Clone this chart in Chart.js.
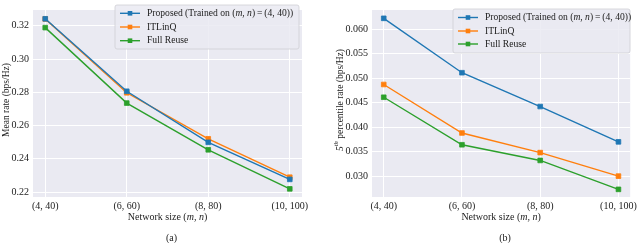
<!DOCTYPE html>
<html>
<head>
<meta charset="utf-8">
<script src="https://cdn.jsdelivr.net/npm/chart.js@4"></script>
<style>
  body { margin: 0; background: #fff; }
  #wrap { position: relative; width: 640px; height: 243px; }
  canvas { position: absolute; top: 0; }
</style>
</head>
<body>
<div id="wrap">
  <canvas id="chart-mean" width="320" height="243" style="left:0"></canvas>
  <canvas id="chart-p5" width="320" height="243" style="left:320px"></canvas>
</div>
<script>
const categories = ['(4, 40)', '(6, 60)', '(8, 80)', '(10, 100)'];
const seriesNames = ['Proposed', 'ITLinQ', 'Full Reuse'];

const meanProposed = [0.3242, 0.2806, 0.2499, 0.2276];
const meanItlinq = [0.3241, 0.2797, 0.2520, 0.2289];
const meanFullReuse = [0.3189, 0.2735, 0.2454, 0.2219];

const p5Proposed = [0.0622, 0.0511, 0.0442, 0.0370];
const p5Itlinq = [0.0487, 0.0388, 0.0348, 0.0300];
const p5FullReuse = [0.0461, 0.0364, 0.0332, 0.0273];

const meanTicks = [0.22, 0.24, 0.26, 0.28, 0.30, 0.32];
const p5Ticks = [0.030, 0.035, 0.040, 0.045, 0.050, 0.055, 0.060];

const colors = ['#1f77b4', '#ff7f0e', '#2ca02c'];
const FONT = '"Liberation Serif", "DejaVu Serif", serif';

// draw text made of pieces, some italic / superscript
function richWidth(ctx, parts, size) {
  let w = 0;
  parts.forEach(p => {
    const s = p.sup ? size * 0.7 : size;
    ctx.font = (p.it ? 'italic ' : '') + s + 'px ' + FONT;
    w += ctx.measureText(p.t).width;
  });
  return w;
}
function richText(ctx, parts, x, y, size) {
  let cx = x;
  ctx.textBaseline = 'middle';
  ctx.textAlign = 'left';
  parts.forEach(p => {
    const s = p.sup ? size * 0.7 : size;
    ctx.font = (p.it ? 'italic ' : '') + s + 'px ' + FONT;
    ctx.fillText(p.t, cx, p.sup ? y - size * 0.35 : y);
    cx += ctx.measureText(p.t).width;
  });
}

const legendLabel = [
  [{t: 'Proposed (Trained on ('}, {t: 'm, n', it: true}, {t: ')\u2009=\u2009(4, 40))'}],
  [{t: 'ITLinQ'}],
  [{t: 'Full Reuse'}],
];

function makeChart(id, opts) {
  const ctx = document.getElementById(id);
  const datasets = opts.series.map((vals, i) => ({
    label: seriesNames[i],
    data: vals.map((v, k) => ({x: k, y: v})),
    borderColor: colors[i],
    backgroundColor: colors[i],
    borderWidth: 1.4,
    pointStyle: 'rect',
    pointRadius: 3.3,
    pointBorderWidth: 0.8,
    tension: 0,
  }));

  const decor = {
    id: 'decor',
    beforeDraw(chart) {
      const {ctx, chartArea: a} = chart;
      ctx.save();
      ctx.fillStyle = '#eaeaf2';
      ctx.fillRect(a.left, a.top, a.right - a.left, a.bottom - a.top);
      ctx.restore();
    },
    afterDraw(chart) {
      const {ctx, chartArea: a} = chart;
      ctx.save();
      // legend
      const L = opts.legend;
      ctx.fillStyle = 'rgba(234,234,242,0.85)';
      ctx.strokeStyle = '#cfcfd4';
      ctx.lineWidth = 0.8;
      ctx.beginPath();
      ctx.roundRect(L.x, L.y, L.w, L.h, 2);
      ctx.fill();
      ctx.stroke();
      L.rows.forEach((ry, i) => {
        ctx.strokeStyle = colors[i];
        ctx.lineWidth = 1.4;
        ctx.beginPath();
        ctx.moveTo(L.x + 5, ry);
        ctx.lineTo(L.x + 25, ry);
        ctx.stroke();
        ctx.fillStyle = colors[i];
        ctx.fillRect(L.x + 15 - 2.3, ry - 2.3, 4.6, 4.6);
        ctx.fillStyle = '#222';
        richText(ctx, legendLabel[i], L.x + 32, ry, 9.6);
      });
      // x title
      ctx.fillStyle = '#222';
      const xt = [{t: 'Network size ('}, {t: 'm, n', it: true}, {t: ')'}];
      const cx = (a.left + a.right) / 2;
      richText(ctx, xt, cx - richWidth(ctx, xt, 10) / 2, 217, 10);
      // caption
      ctx.font = '10px ' + FONT;
      ctx.textAlign = 'center';
      ctx.fillText(opts.caption, cx + 4, 238);
      // y title
      ctx.translate(opts.yTitleX, 100);
      ctx.rotate(-Math.PI / 2);
      const w = richWidth(ctx, opts.yTitle, 9.5);
      richText(ctx, opts.yTitle, -w / 2, 0, 9.5);
      ctx.restore();
    }
  };

  new Chart(ctx, {
    type: 'line',
    data: {datasets},
    plugins: [decor],
    options: {
      responsive: false,
      animation: false,
      layout: {padding: {top: opts.top, right: opts.right, left: 0, bottom: 0}},
      plugins: {legend: {display: false}, tooltip: {enabled: false}},
      scales: {
        x: {
          type: 'linear',
          min: -0.15,
          max: 3.15,
          afterBuildTicks: s => { s.ticks = categories.map((c, i) => ({value: i})); },
          afterFit: s => { s.height = 46; },
          ticks: {
            callback: v => categories[v],
            color: '#222',
            padding: 3,
            font: {family: FONT, size: 10},
            maxRotation: 0,
          },
          grid: {color: '#ffffff', lineWidth: 1, drawTicks: false},
          border: {display: false},
        },
        y: {
          min: opts.yMin,
          max: opts.yMax,
          afterBuildTicks: s => { s.ticks = opts.ticks.map(v => ({value: v})); },
          afterFit: s => { s.width = opts.left; },
          ticks: {
            callback: v => v.toFixed(opts.digits),
            color: '#222',
            padding: 4,
            font: {family: FONT, size: 10},
          },
          grid: {color: '#ffffff', lineWidth: 1, drawTicks: false},
          border: {display: false},
        }
      }
    }
  });
}

makeChart('chart-mean', {
  series: [meanProposed, meanItlinq, meanFullReuse],
  ticks: meanTicks, digits: 2,
  yMin: 0.2170, yMax: 0.3295,
  left: 33, right: 18, top: 0,
  yTitle: [{t: 'Mean rate (bps/Hz)'}], yTitleX: 6,
  caption: '(a)',
  legend: {x: 115, y: 5, w: 184, h: 44, rows: [13.3, 27, 40.7]},
});

makeChart('chart-p5', {
  series: [p5Proposed, p5Itlinq, p5FullReuse],
  ticks: p5Ticks, digits: 3,
  yMin: 0.02574, yMax: 0.0639,
  left: 52, right: 5, top: 5,
  yTitle: [{t: '5', it: true}, {t: 'th', it: true, sup: true}, {t: ' percentile rate (bps/Hz)'}], yTitleX: 20,
  caption: '(b)',
  legend: {x: 133, y: 9, w: 177, h: 44, rows: [17.5, 31, 44]},
});
</script>
</body>
</html>
